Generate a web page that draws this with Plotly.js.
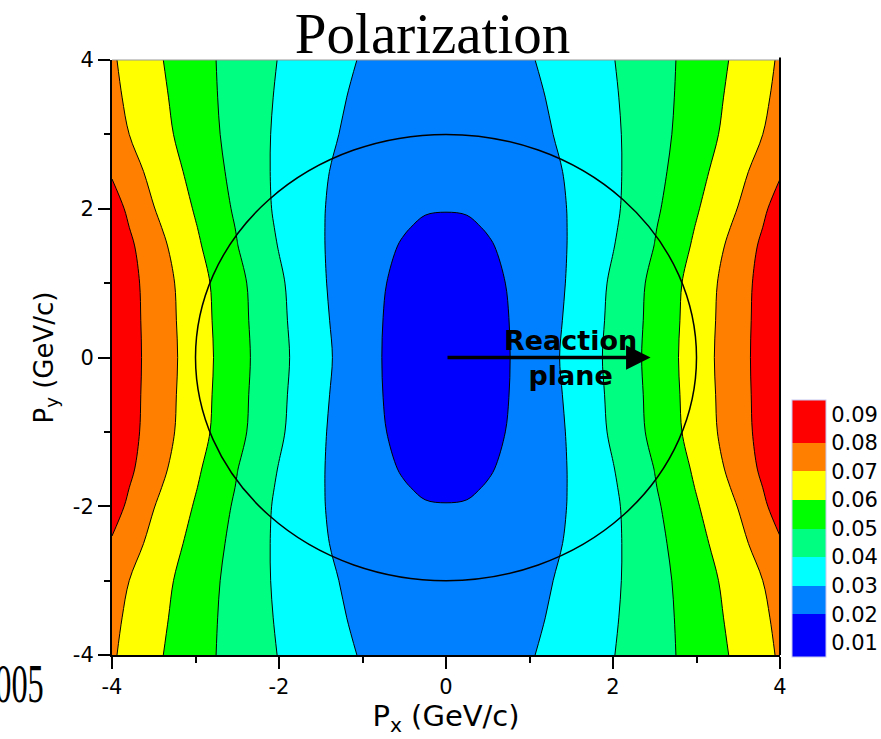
<!DOCTYPE html>
<html>
<head>
<meta charset="utf-8">
<script src="https://cdn.plot.ly/plotly-3.0.1.min.js"></script>
<style>
  html, body { margin: 0; padding: 0; background: #fff; overflow: hidden; }
  #chart { position: absolute; left: 0; top: 0; width: 881px; height: 739px; }
  #year { position: absolute; left: -21px; top: 657px; font-family: 'Liberation Serif', serif; font-size: 54px; line-height: 1; color: #000; transform: scaleX(0.6); transform-origin: left top; white-space: nowrap; }
</style>
</head>
<body>
<div id="chart"></div>
<div id="year">2005</div>
<script>
// ---- data ----
const pxValues = [-4, -3.5, -3, -2.5, -2, -1.5, -1, -0.75, -0.5, -0.25, 0, 0.25, 0.5, 0.75, 1, 1.5, 2, 2.5, 3, 3.5, 4];
const pyValues = [-4, -3.5, -3, -2.5, -2, -1.75, -1.5, -1, -0.5, 0, 0.5, 1, 1.5, 1.75, 2, 2.5, 3, 3.5, 4];

// polarization along each Py row (Px from -4 to 4)
const rowPy0   = [0.0880,0.0767,0.0650,0.0534,0.0426,0.0324,0.0238,0.0197,0.0158,0.0137,0.0130,0.0137,0.0158,0.0197,0.0238,0.0324,0.0426,0.0534,0.0650,0.0767,0.0880];
const rowPy05  = [0.0880,0.0764,0.0646,0.0530,0.0421,0.0317,0.0237,0.0199,0.0160,0.0139,0.0132,0.0139,0.0160,0.0199,0.0237,0.0317,0.0421,0.0530,0.0646,0.0764,0.0880];
const rowPy1   = [0.0878,0.0760,0.0640,0.0525,0.0415,0.0310,0.0239,0.0206,0.0168,0.0146,0.0138,0.0146,0.0168,0.0206,0.0239,0.0310,0.0415,0.0525,0.0640,0.0760,0.0878];
const rowPy15  = [0.0870,0.0741,0.0617,0.0502,0.0396,0.0306,0.0247,0.0221,0.0190,0.0163,0.0155,0.0163,0.0190,0.0221,0.0247,0.0306,0.0396,0.0502,0.0617,0.0741,0.0870];
const rowPy175 = [0.0855,0.0722,0.0605,0.0494,0.0388,0.0305,0.0255,0.0231,0.0207,0.0185,0.0178,0.0185,0.0207,0.0231,0.0255,0.0305,0.0388,0.0494,0.0605,0.0722,0.0855];
const rowPy2   = [0.0840,0.0703,0.0592,0.0484,0.0382,0.0306,0.0252,0.0234,0.0218,0.0208,0.0205,0.0208,0.0218,0.0234,0.0252,0.0306,0.0382,0.0484,0.0592,0.0703,0.0840];
const rowPy25  = [0.0790,0.0671,0.0570,0.0471,0.0381,0.0311,0.0258,0.0240,0.0226,0.0218,0.0215,0.0218,0.0226,0.0240,0.0258,0.0311,0.0381,0.0471,0.0570,0.0671,0.0790];
const rowPy3   = [0.0740,0.0643,0.0552,0.0464,0.0384,0.0323,0.0270,0.0251,0.0236,0.0228,0.0225,0.0228,0.0236,0.0251,0.0270,0.0323,0.0384,0.0464,0.0552,0.0643,0.0740];
const rowPy35  = [0.0722,0.0631,0.0543,0.0462,0.0390,0.0333,0.0280,0.0262,0.0247,0.0238,0.0235,0.0238,0.0247,0.0262,0.0280,0.0333,0.0390,0.0462,0.0543,0.0631,0.0722];
const rowPy4   = [0.0711,0.0619,0.0536,0.0463,0.0397,0.0345,0.0293,0.0273,0.0257,0.0248,0.0245,0.0248,0.0257,0.0273,0.0293,0.0345,0.0397,0.0463,0.0536,0.0619,0.0711];

const levelStart = 0.01, levelEnd = 0.09, levelStep = 0.01;
const bandColors = ['#0000ff', '#0080ff', '#00ffff', '#00ff80', '#00ff00', '#ffff00', '#ff8000', '#ff0000'];
const colorbarTickVals = [0.01, 0.02, 0.03, 0.04, 0.05, 0.06, 0.07, 0.08, 0.09];
const colorbarTickText = ['0.01', '0.02', '0.03', '0.04', '0.05', '0.06', '0.07', '0.08', '0.09'];
const axisTickVals = [-4, -2, 0, 2, 4];
const axisTickText = ['-4', '-2', '0', '2', '4'];
const circleRadius = 3;
const arrowEndPx = 2.45;
const labelPx = 1.49;

// ---- build ----
const zGrid = [rowPy4, rowPy35, rowPy3, rowPy25, rowPy2, rowPy175, rowPy15, rowPy1, rowPy05, rowPy0,
               rowPy05, rowPy1, rowPy15, rowPy175, rowPy2, rowPy25, rowPy3, rowPy35, rowPy4];

const nb = bandColors.length;
const colorscale = [];
bandColors.forEach((c, k) => {
  const lo = k === 0 ? 0 : (k + 0.5) / (nb + 1);
  const hi = k === nb - 1 ? 1 : (k + 1.5) / (nb + 1);
  colorscale.push([lo, c], [hi, c]);
});

const contourSpec = { start: levelStart, end: levelEnd, size: levelStep };

const fillTrace = {
  type: 'contour',
  x: pxValues, y: pyValues, z: zGrid,
  autocontour: false,
  contours: Object.assign({ coloring: 'fill', showlines: false }, contourSpec),
  colorscale: colorscale,
  line: { width: 0, smoothing: 1 },
  hoverinfo: 'skip',
  colorbar: {
    thickness: 34, len: 257, lenmode: 'pixels',
    x: 1.018, xanchor: 'left', xpad: 0,
    y: -0.0034, yanchor: 'bottom', ypad: 0,
    tickvals: colorbarTickVals, ticktext: colorbarTickText,
    ticks: '', ticklabelpad: 3,
    tickfont: { family: 'DejaVu Sans', size: 21, color: '#000' },
    outlinewidth: 1, outlinecolor: '#c8c8f0'
  }
};

const lineTrace = {
  type: 'contour',
  x: pxValues, y: pyValues, z: zGrid,
  autocontour: false,
  contours: Object.assign({ coloring: 'lines', showlines: true }, contourSpec),
  colorscale: [[0, '#000'], [1, '#000']],
  line: { width: 1, smoothing: 1 },
  showscale: false,
  hoverinfo: 'skip'
};

const axisCommon = {
  range: [-4, 4], tickvals: axisTickVals, ticktext: axisTickText,
  ticks: 'outside', ticklen: 12, tickwidth: 2, tickcolor: '#000',
  showline: true, linewidth: 2, linecolor: '#000', mirror: false,
  showgrid: false, zeroline: false,
  tickfont: { family: 'DejaVu Sans', size: 21, color: '#000' },
  minor: { dtick: 1, tick0: 0, ticks: 'outside', ticklen: 6, tickwidth: 2, tickcolor: '#000', showgrid: false },
  automargin: false
};

const layout = {
  width: 881, height: 739,
  margin: { l: 112, r: 101, t: 60, b: 84, autoexpand: false },
  paper_bgcolor: '#fff', plot_bgcolor: '#fff',
  showlegend: false,
  title: {
    text: 'Polarization',
    font: { family: 'Liberation Serif', size: 57, color: '#000' },
    x: 0.491, xanchor: 'center', xref: 'container',
    y: 0.955, yanchor: 'middle', yref: 'container'
  },
  xaxis: Object.assign({}, axisCommon, {
    title: { text: 'P<sub>x</sub> (GeV/c)', font: { family: 'DejaVu Sans', size: 29, color: '#000' }, standoff: 6 }
  }),
  yaxis: Object.assign({}, axisCommon, {
    title: { text: 'P<sub>y</sub> (GeV/c)', font: { family: 'DejaVu Sans', size: 26, color: '#000' }, standoff: 12 }
  }),
  shapes: [
    { type: 'circle', xref: 'x', yref: 'y', x0: -circleRadius, y0: -circleRadius, x1: circleRadius, y1: circleRadius,
      line: { color: '#000', width: 1.5 }, layer: 'above' },
    { type: 'line', xref: 'paper', yref: 'paper', x0: 0, x1: 1, y0: 1, y1: 1, line: { color: '#999', width: 1 }, layer: 'above' },
    { type: 'line', xref: 'paper', yref: 'paper', x0: 1, x1: 1, y0: 0, y1: 1.004, line: { color: '#000', width: 2 }, layer: 'above' }
  ],
  annotations: [
    { x: arrowEndPx, y: 0, xref: 'x', yref: 'y', ax: 0, ay: 0, axref: 'x', ayref: 'y',
      showarrow: true, arrowhead: 2, arrowsize: 1.4, arrowwidth: 3.5, arrowcolor: '#000', text: '' },
    { x: labelPx, y: 0, xref: 'x', yref: 'y', showarrow: false,
      text: '<b>Reaction</b><br><b>plane</b>',
      font: { family: 'DejaVu Sans', size: 27, color: '#000' }, xanchor: 'center', yanchor: 'middle' }
  ]
};

Plotly.newPlot('chart', [fillTrace, lineTrace], layout, { displayModeBar: false, staticPlot: true });
</script>
</body>
</html>
